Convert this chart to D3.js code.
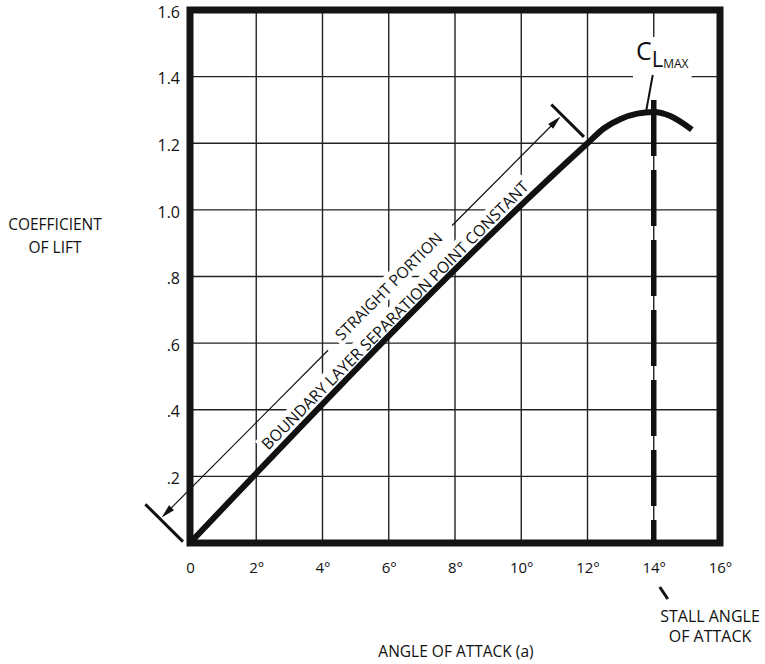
<!DOCTYPE html>
<html>
<head>
<meta charset="utf-8">
<script src="https://cdn.jsdelivr.net/npm/d3@7"></script>
<style>
  html, body { margin: 0; padding: 0; background: #fff; }
  svg { display: block; font-family: "Open Sans", "Noto Sans", sans-serif; }
</style>
</head>
<body>
<svg id="chart" width="765" height="664"></svg>
<script>
// ---- data ----
const xTicks = [0, 2, 4, 6, 8, 10, 12, 14, 16];
const xTickLabels = ["0", "2°", "4°", "6°", "8°", "10°", "12°", "14°", "16°"];
const yTicks = [0.2, 0.4, 0.6, 0.8, 1.0, 1.2, 1.4, 1.6];
const yTickLabels = [".2", ".4", ".6", ".8", "1.0", "1.2", "1.4", "1.6"];
const angles = [0, 12, 12.5, 13, 13.5, 14, 14.5, 15.15];
const liftCoef = [0, 1.2, 1.245, 1.273, 1.289, 1.294, 1.282, 1.241];
const straightEnd = [12, 1.2];
const stallAngle = 14;
const stallLineTop = 1.33;
const xTitle = "ANGLE OF ATTACK (a)";
const yTitle = ["COEFFICIENT", "OF LIFT"];
const straightLabel = "STRAIGHT PORTION";
const boundaryLabel = "BOUNDARY LAYER SEPARATION POINT CONSTANT";
const stallLabel = ["STALL ANGLE", "OF ATTACK"];

// ---- layout ----
const svg = d3.select("#chart");
const x = d3.scaleLinear().domain([0, 16]).range([190, 720]);
const y = d3.scaleLinear().domain([0, 1.6]).range([543, 10]);

// grid
const grid = svg.append("g");
grid.selectAll("line.v").data(xTicks.filter(d => d > 0 && d < 16)).join("line")
  .attr("x1", d => x(d)).attr("x2", d => x(d))
  .attr("y1", y(0)).attr("y2", y(1.6))
  .attr("stroke", "#222").attr("stroke-width", 1.4);
grid.selectAll("line.h").data(yTicks.filter(d => d < 1.6)).join("line")
  .attr("x1", x(0)).attr("x2", x(16))
  .attr("y1", d => y(d)).attr("y2", d => y(d))
  .attr("stroke", "#222").attr("stroke-width", 1.4);

// axes tick labels
const yAxis = d3.axisLeft(y).tickValues(yTicks).tickSize(0).tickPadding(0)
  .tickFormat((d, i) => yTickLabels[i]);
const yg = svg.append("g").attr("transform", `translate(${x(0) - 10},0)`).call(yAxis);
yg.select(".domain").remove();
yg.selectAll("text").attr("font-size", 16).attr("fill", "#111").attr("dy", "0.45em")
  .attr("font-family", "'Open Sans', sans-serif");

const xAxis = d3.axisBottom(x).tickValues(xTicks).tickSize(0).tickPadding(0)
  .tickFormat((d, i) => xTickLabels[i]);
const xg = svg.append("g").attr("transform", `translate(0,${y(0) + 19})`).call(xAxis);
xg.select(".domain").remove();
xg.selectAll("text").attr("font-size", 15).attr("fill", "#111")
  .attr("font-family", "'Open Sans', sans-serif");

// titles
svg.append("text").attr("x", 456).attr("y", 657).attr("text-anchor", "middle")
  .attr("font-size", 15.5).attr("fill", "#111").text(xTitle);
svg.selectAll("text.yt").data(yTitle).join("text")
  .attr("x", 55).attr("y", (d, i) => 230 + i * 23).attr("text-anchor", "middle")
  .attr("font-size", 15.5).attr("fill", "#111").text(d => d);

// annotation group rotated along straight portion
const p0 = [x(0), y(0)], p1 = [x(straightEnd[0]), y(straightEnd[1])];
const ang = Math.atan2(p1[1] - p0[1], p1[0] - p0[0]) * 180 / Math.PI;
const L = Math.hypot(p1[0] - p0[0], p1[1] - p0[1]);
const ann = svg.append("g").attr("transform", `translate(${p0[0]},${p0[1]}) rotate(${ang})`);
const annBg = ann.append("g");

const tB = ann.append("text").attr("x", 306).attr("y", -9.5).attr("text-anchor", "middle")
  .attr("font-size", 15.8).attr("fill", "#111").text(boundaryLabel);
const tS = ann.append("text").attr("x", 322).attr("y", -40).attr("dy", "0.35em")
  .attr("text-anchor", "middle").attr("font-size", 15.6).attr("fill", "#111").text(straightLabel);
[tB, tS].forEach(t => {
  const b = t.node().getBBox();
  annBg.append("rect").attr("x", b.x - 3).attr("y", b.y + 1)
    .attr("width", b.width + 6).attr("height", b.height - 2).attr("fill", "#fff");
});

// thin dimension line (broken at label)
const off = -38;
ann.append("line").attr("x1", 8).attr("x2", 234).attr("y1", off).attr("y2", off)
  .attr("stroke", "#111").attr("stroke-width", 1.2);
ann.append("line").attr("x1", 410).attr("x2", L - 10).attr("y1", off).attr("y2", off)
  .attr("stroke", "#111").attr("stroke-width", 1.2);
ann.append("polygon")
  .attr("points", `${-2},${off} ${12},${off - 3.5} ${12},${off + 3.5}`).attr("fill", "#111");
ann.append("polygon")
  .attr("points", `${L},${off} ${L - 14},${off - 3.5} ${L - 14},${off + 3.5}`).attr("fill", "#111");
// end ticks
ann.append("line").attr("x1", -4).attr("x2", -4).attr("y1", -6).attr("y2", -59)
  .attr("stroke", "#111").attr("stroke-width", 3);
ann.append("line").attr("x1", L + 2).attr("x2", L + 2).attr("y1", -7).attr("y2", -53)
  .attr("stroke", "#111").attr("stroke-width", 3);

// CL max label with background
const bgLayer = svg.append("g");
const lbl = svg.append("text").attr("x", 636).attr("y", 60).attr("fill", "#111");
lbl.append("tspan").attr("font-size", 25).text("C");
lbl.append("tspan").attr("font-size", 22).attr("dy", 7).text("L");
lbl.append("tspan").attr("font-size", 12).attr("dy", 1).text("MAX");
const bb = lbl.node().getBBox();
bgLayer.append("rect")
  .attr("x", bb.x - 3).attr("y", bb.y + 4)
  .attr("width", bb.width + 6).attr("height", y(stallLineTop) - bb.y - 4)
  .attr("fill", "#fff");
svg.append("line")
  .attr("x1", x(stallAngle) - 1).attr("y1", bb.y + bb.height + 2)
  .attr("x2", x(13.75)).attr("y2", y(1.285))
  .attr("stroke", "#111").attr("stroke-width", 2);

// frame
svg.append("rect").attr("x", x(0)).attr("y", y(1.6))
  .attr("width", x(16) - x(0)).attr("height", y(0) - y(1.6))
  .attr("fill", "none").attr("stroke", "#141414").attr("stroke-width", 7);

// stall dashed line
svg.append("line")
  .attr("x1", x(stallAngle)).attr("x2", x(stallAngle))
  .attr("y1", y(stallLineTop)).attr("y2", y(0))
  .attr("stroke", "#111").attr("stroke-width", 5.5).attr("stroke-dasharray", "56,14");

// lift curve
const pts = angles.map((a, i) => [a, liftCoef[i]]);
svg.append("path").datum(pts)
  .attr("d", d3.line().x(d => x(d[0])).y(d => y(d[1])).curve(d3.curveMonotoneX))
  .attr("fill", "none").attr("stroke", "#111").attr("stroke-width", 6);

// stall label
svg.append("line").attr("x1", x(stallAngle) + 6).attr("y1", 587)
  .attr("x2", x(stallAngle) + 14).attr("y2", 599)
  .attr("stroke", "#111").attr("stroke-width", 3);
svg.selectAll("text.st").data(stallLabel).join("text")
  .attr("x", 710).attr("y", (d, i) => 622 + i * 20).attr("text-anchor", "middle")
  .attr("font-size", 16).attr("fill", "#111").text(d => d);
</script>
</body>
</html>
